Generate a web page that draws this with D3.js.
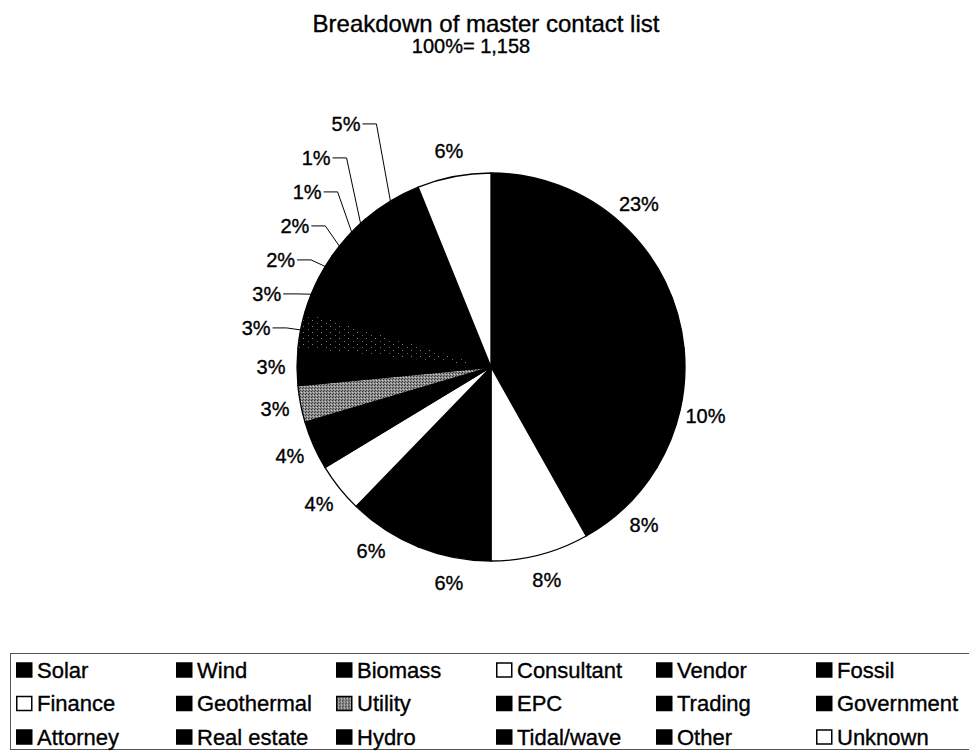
<!DOCTYPE html>
<html>
<head>
<meta charset="utf-8">
<script src="https://cdn.jsdelivr.net/npm/d3@7"></script>
<style>
  body { margin: 0; background: #fff; }
  text { font-family: "Liberation Sans", Arial, Helvetica, sans-serif; fill: #000;
         stroke: #000; stroke-width: 0.35px; }
</style>
</head>
<body>
<div id="chart"></div>
<script>
// data
var categories = ["Solar", "Wind", "Biomass", "Consultant", "Vendor", "Fossil",
                  "Finance", "Geothermal", "Utility", "EPC", "Trading", "Government",
                  "Attorney", "Real estate", "Hydro", "Tidal/wave", "Other", "Unknown"];
var shares = [23, 10, 8, 8, 6, 6, 4, 4, 3, 3, 3, 3, 2, 2, 1, 1, 5, 6];
var title = "Breakdown of master contact list";
var subtitle = "100%= 1,158";

// fills per category (slice / legend swatch)
var sliceFill = {
    "Consultant": "#fff", "Finance": "#fff", "Unknown": "#fff",
    "Utility": "url(#utility)", "Trading": "url(#trading)"
};
var legendFill = {
    "Consultant": "#fff", "Finance": "#fff", "Unknown": "#fff",
    "Utility": "url(#utility)"
};

var WIDTH = 969,
    HEIGHT = 751,
    CX = 491,
    CY = 367,
    RADIUS = 194,
    LABEL_R = 220;

var svg = d3.select("#chart").append("svg")
    .attr("width", WIDTH)
    .attr("height", HEIGHT);

// patterns for the two textured slices
var defs = svg.append("defs");
var pu = defs.append("pattern").attr("id", "utility")
    .attr("patternUnits", "userSpaceOnUse").attr("width", 3).attr("height", 3);
pu.append("rect").attr("width", 3).attr("height", 3).attr("fill", "#8c8c8c");
pu.append("rect").attr("x", 0).attr("y", 0).attr("width", 1).attr("height", 1).attr("fill", "#333");
pu.append("rect").attr("x", 2).attr("y", 1).attr("width", 1).attr("height", 1).attr("fill", "#ccc");
pu.append("rect").attr("x", 1).attr("y", 2).attr("width", 1).attr("height", 1).attr("fill", "#444");

var pt = defs.append("pattern").attr("id", "trading")
    .attr("patternUnits", "userSpaceOnUse").attr("width", 9).attr("height", 6);
pt.append("rect").attr("width", 9).attr("height", 6).attr("fill", "#000");
pt.append("rect").attr("x", 1).attr("y", 1).attr("width", 1).attr("height", 1).attr("fill", "#888");
pt.append("rect").attr("x", 6).attr("y", 4).attr("width", 1).attr("height", 1).attr("fill", "#666");

// titles
svg.append("text")
    .attr("x", 486).attr("y", 32)
    .attr("text-anchor", "middle")
    .style("font-size", "24px")
    .text(title);
svg.append("text")
    .attr("x", 471).attr("y", 53)
    .attr("text-anchor", "middle")
    .style("font-size", "20px")
    .text(subtitle);

var data = categories.map(function (c, i) {
    return {name: c, value: shares[i]};
});

var pie = d3.pie()
    .sort(null)
    .value(function (d) { return d.value; });

var arcs = pie(data);

var arc = d3.arc().innerRadius(0).outerRadius(RADIUS);

var g = svg.append("g")
    .attr("transform", "translate(" + CX + "," + CY + ")");

g.selectAll("path.slice")
    .data(arcs)
    .enter().append("path")
    .attr("class", "slice")
    .attr("d", arc)
    .attr("fill", function (d) { return sliceFill[d.data.name] || "#000"; })
    .attr("stroke", "#000")
    .attr("stroke-width", 1.3)
    .attr("stroke-linejoin", "round");

// labels: small slices in the upper-left get leader lines, stacked upward
function pt2(a, r) {
    return [r * Math.sin(a), -r * Math.cos(a)];
}
var deg = 180 / Math.PI;
var stackY = null;

arcs.forEach(function (d) {
    var mid = (d.startAngle + d.endAngle) / 2;
    var label = d.data.value + "%";
    var midDeg = mid * deg;
    if (midDeg > 276 && midDeg < 340) {
        var p = pt2(mid, RADIUS);
        stackY = stackY === null ? p[1] - 2 : stackY - 34;
        var endX = p[0] - 26;
        g.append("text")
            .attr("x", endX - 4)
            .attr("y", stackY)
            .attr("dy", "0.35em")
            .attr("text-anchor", "end")
            .style("font-size", "20px")
            .text(label);
        g.append("path")
            .attr("d", "M" + (endX - 2) + "," + stackY +
                       "H" + (endX + 12) +
                       "L" + p[0] + "," + p[1])
            .attr("fill", "none")
            .attr("stroke", "#000")
            .attr("stroke-width", 1);
    } else {
        var q = pt2(mid, LABEL_R);
        g.append("text")
            .attr("x", q[0])
            .attr("y", q[1])
            .attr("dy", "0.35em")
            .attr("text-anchor", "middle")
            .style("font-size", "20px")
            .text(label);
    }
});

// legend
var LEG_X = 10,
    LEG_Y = 653,
    COL_W = 160,
    ROW_H = 33.5,
    NCOL = 6;

svg.append("rect")
    .attr("x", LEG_X + 0.5)
    .attr("y", LEG_Y + 0.5)
    .attr("width", WIDTH)
    .attr("height", HEIGHT - LEG_Y - 2)
    .attr("fill", "none")
    .attr("stroke", "#555")
    .attr("stroke-width", 1);

var item = svg.selectAll("g.legend")
    .data(categories)
    .enter().append("g")
    .attr("class", "legend")
    .attr("transform", function (d, i) {
        var col = i % NCOL, row = Math.floor(i / NCOL);
        return "translate(" + (LEG_X + 6 + col * COL_W) + "," + (LEG_Y + 17 + row * ROW_H) + ")";
    });

item.append("rect")
    .attr("x", 0.75)
    .attr("y", -7)
    .attr("width", 15)
    .attr("height", 14)
    .attr("fill", function (d) { return legendFill[d] || "#000"; })
    .attr("stroke", "#000")
    .attr("stroke-width", 1.5);

item.append("text")
    .attr("x", 21)
    .attr("y", 0)
    .attr("dy", "0.36em")
    .style("font-size", "22px")
    .text(function (d) { return d; });
</script>
</body>
</html>
